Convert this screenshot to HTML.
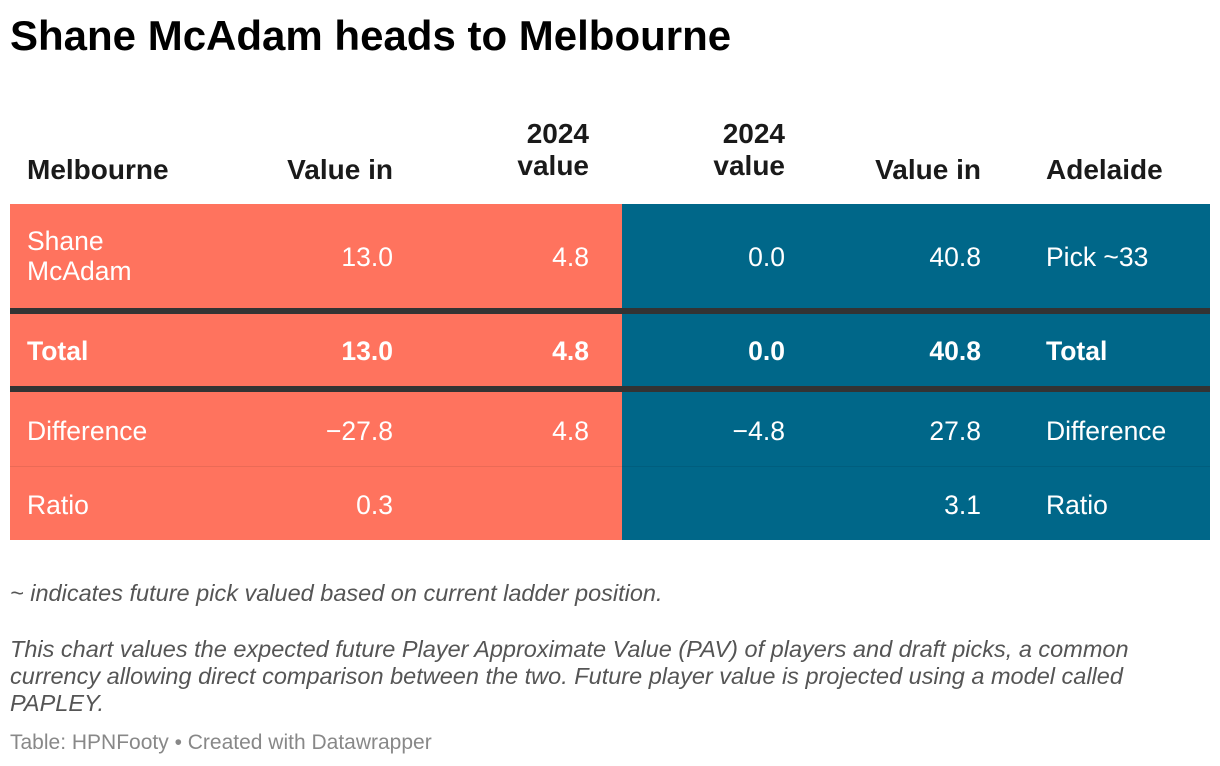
<!DOCTYPE html>
<html><head><meta charset="utf-8"><style>
body{margin:0;width:1220px;height:766px;background:#fff;font-family:"Liberation Sans",sans-serif;position:relative;overflow:hidden}
.a{position:absolute;white-space:nowrap}
.h{font-weight:bold;font-size:28px;color:#1a1a1a;line-height:32px}
.c{font-size:26.5px;color:#fff;line-height:30px}
.b{font-weight:bold}
.r{text-align:right}
</style></head><body>
<div class="a" style="left:10px;top:12px;font-size:42px;font-weight:bold;color:#000">Shane McAdam heads to Melbourne</div>

<div class="a h" style="left:27px;top:154px">Melbourne</div>
<div class="a h r" style="left:193px;width:200px;top:154px">Value in</div>
<div class="a h r" style="left:389px;width:200px;top:118px">2024<br>value</div>
<div class="a h r" style="left:585px;width:200px;top:118px">2024<br>value</div>
<div class="a h r" style="left:781px;width:200px;top:154px">Value in</div>
<div class="a h" style="left:1046px;top:154px">Adelaide</div>

<div class="a" style="left:10px;top:204px;width:612px;height:336px;background:#ff735e"></div>
<div class="a" style="left:622px;top:204px;width:588px;height:336px;background:#006789"></div>
<div class="a" style="left:10px;top:308px;width:1200px;height:6px;background:#333"></div>
<div class="a" style="left:10px;top:386px;width:1200px;height:6px;background:#333"></div>
<div class="a" style="left:10px;top:466px;width:1200px;height:1px;background:rgba(0,0,0,0.08)"></div>

<div class="a c" style="left:27px;top:226px">Shane<br>McAdam</div>
<div class="a c r" style="left:193px;width:200px;top:242px">13.0</div>
<div class="a c r" style="left:389px;width:200px;top:242px">4.8</div>
<div class="a c r" style="left:585px;width:200px;top:242px">0.0</div>
<div class="a c r" style="left:781px;width:200px;top:242px">40.8</div>
<div class="a c" style="left:1046px;top:242px">Pick ~33</div>

<div class="a c b" style="left:27px;top:336px">Total</div>
<div class="a c b r" style="left:193px;width:200px;top:336px">13.0</div>
<div class="a c b r" style="left:389px;width:200px;top:336px">4.8</div>
<div class="a c b r" style="left:585px;width:200px;top:336px">0.0</div>
<div class="a c b r" style="left:781px;width:200px;top:336px">40.8</div>
<div class="a c b" style="left:1046px;top:336px">Total</div>

<div class="a c" style="left:27px;top:416px">Difference</div>
<div class="a c r" style="left:193px;width:200px;top:416px">−27.8</div>
<div class="a c r" style="left:389px;width:200px;top:416px">4.8</div>
<div class="a c r" style="left:585px;width:200px;top:416px">−4.8</div>
<div class="a c r" style="left:781px;width:200px;top:416px">27.8</div>
<div class="a c" style="left:1046px;top:416px">Difference</div>

<div class="a c" style="left:27px;top:490px">Ratio</div>
<div class="a c r" style="left:193px;width:200px;top:490px">0.3</div>
<div class="a c r" style="left:781px;width:200px;top:490px">3.1</div>
<div class="a c" style="left:1046px;top:490px">Ratio</div>

<div class="a" style="left:10px;top:580px;font-size:23.5px;font-style:italic;color:#555">~ indicates future pick valued based on current ladder position.</div>
<div class="a" style="left:10px;top:636px;font-size:23.5px;font-style:italic;color:#555;line-height:27px;white-space:normal;width:1150px">This chart values the expected future Player Approximate Value (PAV) of players and draft picks, a common currency allowing direct comparison between the two. Future player value is projected using a model called PAPLEY.</div>
<div class="a" style="left:10px;top:731px;font-size:21px;color:#888">Table: HPNFooty • Created with Datawrapper</div>
</body></html>
